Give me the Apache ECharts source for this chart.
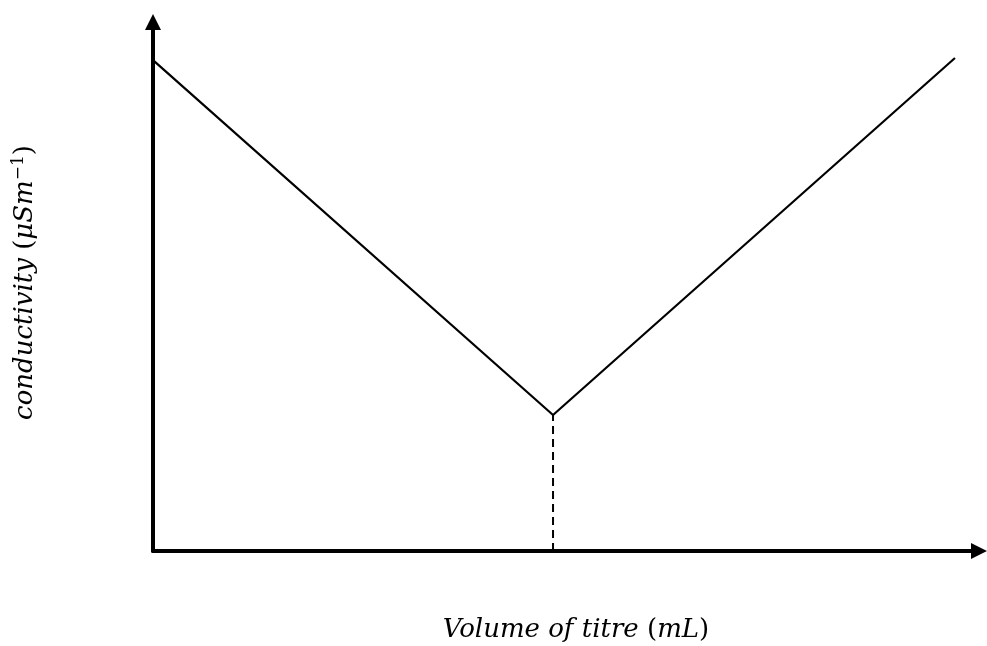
<!DOCTYPE html>
<html>
<head>
<meta charset="utf-8">
<script src="https://cdn.jsdelivr.net/npm/echarts@6/dist/echarts.min.js"></script>
<style>html,body{margin:0;padding:0;background:#fff;}#c{width:987px;height:646px;}</style>
</head>
<body>
<div id="c"></div>
<script>
const volume = [0, 4.843, 9.709];
const conductivity = [9.28, 2.57, 9.32];
const endpointX = [4.843, 4.843];
const endpointY = [0, 2.57];
const xName = '{i|Volume of titre }{n|(}{i|mL}{n|)}';
const yName = '{i|conductivity }{n|(}{i|μSm}{s|−1}{n|)}';

const base = {fontFamily: 'DejaVu Serif', fontSize: 26, color: '#000'};
const rich = {
  i: Object.assign({}, base, {fontStyle: 'italic'}),
  n: Object.assign({}, base, {fontStyle: 'normal'}),
  s: Object.assign({}, base, {fontStyle: 'normal', fontSize: 17, verticalAlign: 'top', lineHeight: 30})
};
const chart = echarts.init(document.getElementById('c'), null, {renderer: 'canvas'});
chart.setOption({
  animation: false,
  backgroundColor: '#fff',
  grid: {left: 153, right: 8, top: 22, bottom: 95, outerBoundsMode: 'none'},
  xAxis: {
    type: 'value', min: 0, max: 10,
    name: xName, nameLocation: 'middle', nameGap: 66, nameTextStyle: {rich: rich, padding: [0, 0, 0, 20]},
    axisLine: {show: true, symbol: ['none', 'triangle'], symbolSize: [16, 16], lineStyle: {color: '#000', width: 4}},
    axisTick: {show: false}, axisLabel: {show: false}, splitLine: {show: false}
  },
  yAxis: {
    type: 'value', min: 0, max: 10,
    name: yName, nameLocation: 'middle', nameGap: 113, nameTextStyle: {rich: rich, padding: [0, 0, 0, 8]},
    axisLine: {show: true, symbol: ['none', 'triangle'], symbolSize: [16, 16], lineStyle: {color: '#000', width: 4}},
    axisTick: {show: false}, axisLabel: {show: false}, splitLine: {show: false}
  },
  series: [
    {
      type: 'line', data: volume.map((v, i) => [v, conductivity[i]]),
      showSymbol: false, lineStyle: {color: '#000', width: 2.2}, z: 3
    },
    {
      type: 'line', data: endpointX.map((v, i) => [v, endpointY[i]]),
      showSymbol: false, lineStyle: {color: '#000', width: 2, type: [8, 5]}, z: 2
    }
  ]
});
</script>
</body>
</html>
